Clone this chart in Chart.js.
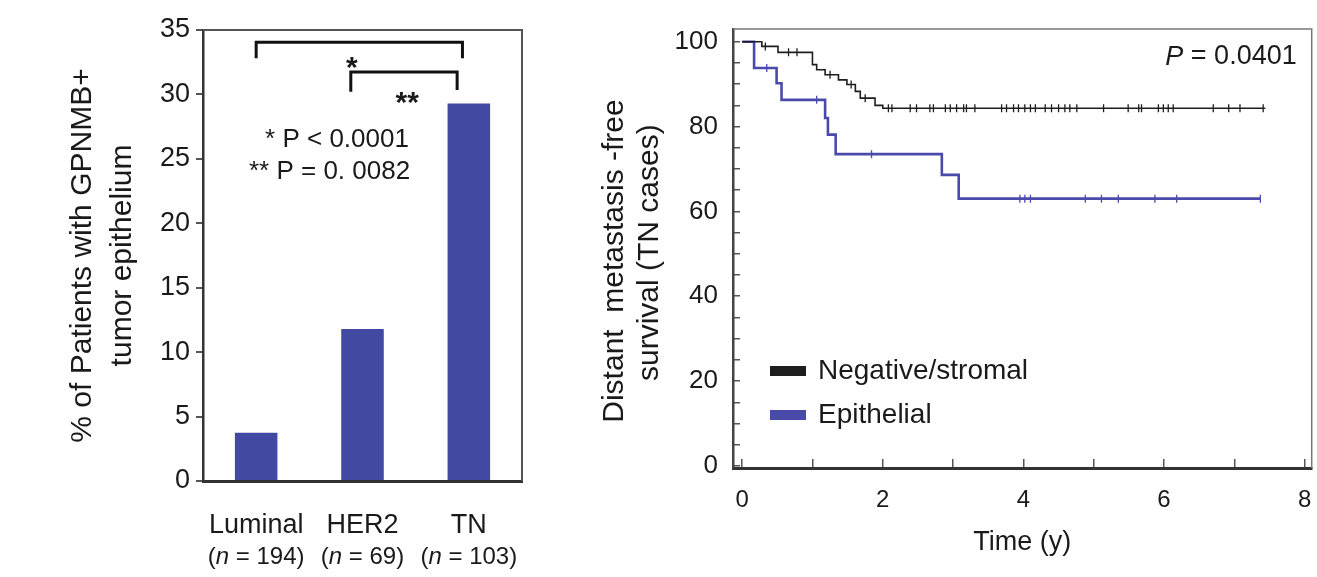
<!DOCTYPE html>
<html lang="en">
<head>
<meta charset="UTF-8">
<title>GPNMB epithelial expression</title>
<script src="https://cdn.jsdelivr.net/npm/chart.js"></script>
<style>
  body { margin: 0; background: #fff; }
  #wrap { position: relative; width: 1317px; height: 577px; }
  .box { position: absolute; top: 0; height: 577px; }
  #left { left: 0; width: 570px; }
  #right { left: 570px; width: 747px; }
</style>
</head>
<body>
<div id="wrap">
  <div class="box" id="left"><canvas id="barChart"></canvas></div>
  <div class="box" id="right"><canvas id="kmChart"></canvas></div>
</div>
<script>
// bar chart data
const subtypes = ['Luminal', 'HER2', 'TN'];
const subtypeN = [194, 69, 103];
const pctPositive = [3.75, 11.8, 29.3];

// Kaplan-Meier curves (time in years, survival in %)
const negTimes = [0, 0.28, 0.51, 1.0, 1.06, 1.18, 1.37, 1.49, 1.61, 1.68, 1.89, 2.0, 7.44];
const negSurv  = [100, 98.9, 97.5, 94.6, 93.4, 92.2, 91.0, 89.9, 88.3, 86.7, 85.0, 84.3, 84.3];
const epiTimes = [0, 0.17, 0.49, 0.56, 1.18, 1.22, 1.33, 2.84, 3.08, 7.37];
const epiSurv  = [100, 93.8, 90.2, 86.3, 82.0, 78.1, 73.5, 68.6, 63.0, 63.0];

// censored observations
const negCensor = [0.33, 0.66, 0.78, 1.25, 1.55, 1.75, 2.08, 2.13, 2.39, 2.48, 2.67, 2.72, 2.89, 2.96,
  3.05, 3.15, 3.19, 3.31, 3.69, 3.76, 3.86, 3.93, 4.02, 4.10, 4.17, 4.31, 4.40, 4.50, 4.59, 4.66,
  4.76, 5.14, 5.49, 5.64, 5.68, 5.92, 5.99, 6.06, 6.13, 6.70, 6.92, 7.08, 7.41];
const epiCensor = [0.35, 1.06, 1.84, 3.95, 4.02, 4.10, 4.88, 5.11, 5.35, 5.87, 6.18, 7.37];

const FONT = "'Liberation Sans', Arial, Helvetica, sans-serif";
const TEXT = '#1a1a1a';
const BAR_BLUE = '#4249a3';
const KM_BLUE = '#4a4aaa';
const KM_BLACK = '#1e1e1e';

Chart.defaults.font.family = FONT;
Chart.defaults.color = TEXT;

function survAt(times, surv, t) {
  let s = surv[0];
  for (let i = 0; i < times.length; i++) if (times[i] <= t) s = surv[i];
  return s;
}
const toXY = (xs, ys) => xs.map((x, i) => ({ x, y: ys[i] }));
const censorPts = (cs, times, surv) => cs.map(t => ({ x: t, y: survAt(times, surv, t) }));

// keep the chart area where the figure has it
function noPad(s) {
  s.paddingLeft = 0; s.paddingRight = 0; s.paddingTop = 0; s.paddingBottom = 0;
}

// brackets, p-values, frame and n labels on the bar chart
const barExtras = {
  id: 'barExtras',
  afterDraw(chart) {
    const { ctx, chartArea: a, scales: { x, y } } = chart;
    ctx.save();
    ctx.strokeStyle = '#555';
    ctx.lineWidth = 2;
    ctx.beginPath();
    ctx.moveTo(a.left, a.top); ctx.lineTo(a.right, a.top); ctx.lineTo(a.right, a.bottom);
    ctx.stroke();

    ctx.strokeStyle = '#111';
    ctx.lineWidth = 3;
    const bracket = (i0, i1, top, end0, end1) => {
      ctx.beginPath();
      ctx.moveTo(x.getPixelForValue(i0), y.getPixelForValue(end0));
      ctx.lineTo(x.getPixelForValue(i0), y.getPixelForValue(top));
      ctx.lineTo(x.getPixelForValue(i1), y.getPixelForValue(top));
      ctx.lineTo(x.getPixelForValue(i1), y.getPixelForValue(end1));
      ctx.stroke();
    };
    bracket(0, 1.94, 34.05, 32.8, 32.8);
    bracket(0.89, 1.89, 31.75, 30.2, 30.35);

    ctx.fillStyle = TEXT;
    ctx.textAlign = 'center';
    ctx.textBaseline = 'middle';
    ctx.font = `bold 30px ${FONT}`;
    ctx.fillText('*', x.getPixelForValue(0.9), y.getPixelForValue(31.97));
    ctx.fillText('**', x.getPixelForValue(1.42), y.getPixelForValue(29.26));
    ctx.font = `26px ${FONT}`;
    ctx.fillText('* P < 0.0001', x.getPixelForValue(0.76), y.getPixelForValue(26.46));
    ctx.fillText('** P = 0. 0082', x.getPixelForValue(0.69), y.getPixelForValue(23.98));

    // (n = ...) under each category, italic n
    const yy = a.bottom + 76;
    subtypeN.forEach((n, i) => {
      const parts = [['(', false], ['n', true], [' = ' + n + ')', false]];
      const w = parts.map(([t, it]) => { ctx.font = `${it ? 'italic ' : ''}24px ${FONT}`; return ctx.measureText(t).width; });
      let xx = x.getPixelForValue(i) - w.reduce((s, v) => s + v, 0) / 2;
      ctx.textAlign = 'left';
      parts.forEach(([t, it], k) => {
        ctx.font = `${it ? 'italic ' : ''}24px ${FONT}`;
        ctx.fillText(t, xx, yy);
        xx += w[k];
      });
    });
    ctx.restore();
  }
};

new Chart(document.getElementById('barChart'), {
  type: 'bar',
  data: {
    labels: subtypes,
    datasets: [{
      data: pctPositive,
      backgroundColor: BAR_BLUE,
      barPercentage: 0.4,
      categoryPercentage: 1
    }]
  },
  options: {
    responsive: true,
    maintainAspectRatio: false,
    animation: false,
    layout: { padding: { left: 56, right: 48, top: 30, bottom: 0 } },
    plugins: { legend: { display: false }, tooltip: { enabled: false } },
    scales: {
      x: {
        grid: { display: false },
        border: { color: '#333', width: 3 },
        ticks: { font: { size: 27 }, padding: 20, color: TEXT },
        afterFit: s => { s.height = 96; noPad(s); }
      },
      y: {
        min: 0,
        max: 35,
        ticks: { stepSize: 5, font: { size: 27 }, padding: 6, color: TEXT },
        grid: { drawOnChartArea: false, tickLength: 7, color: '#555', lineWidth: 2 },
        border: { color: '#333', width: 2.5 },
        title: {
          display: true,
          text: ['% of Patients with GPNMB+', 'tumor epithelium'],
          font: { size: 30, lineHeight: 1.33 },
          padding: { top: 7 },
          color: TEXT
        },
        afterFit: s => { s.width = 147; noPad(s); }
      }
    }
  },
  plugins: [barExtras]
});

// legend, p-value and frame on the survival chart
const kmExtras = {
  id: 'kmExtras',
  afterDraw(chart) {
    const { ctx, chartArea: a } = chart;
    ctx.save();
    ctx.strokeStyle = '#777';
    ctx.lineWidth = 1.5;
    ctx.beginPath();
    ctx.moveTo(a.left, a.top); ctx.lineTo(a.right, a.top); ctx.lineTo(a.right, a.bottom);
    ctx.stroke();

    ctx.textBaseline = 'middle';
    ctx.textAlign = 'left';
    ctx.font = `28px ${FONT}`;
    chart.data.datasets.filter(d => d.label).forEach((d, i) => {
      const yy = a.top + 342 + i * 44;
      ctx.fillStyle = d.borderColor;
      ctx.fillRect(a.left + 37, yy - 5, 36, 10);
      ctx.fillStyle = TEXT;
      ctx.fillText(d.label, a.left + 85, yy);
    });

    const rest = ' = 0.0401';
    ctx.font = `27px ${FONT}`;
    const wRest = ctx.measureText(rest).width;
    ctx.textAlign = 'right';
    ctx.fillText(rest, a.right - 15, a.top + 28);
    ctx.font = `italic 27px ${FONT}`;
    ctx.fillText('P', a.right - 15 - wRest, a.top + 28);
    ctx.restore();
  }
};

new Chart(document.getElementById('kmChart'), {
  type: 'line',
  data: {
    datasets: [
      { label: 'Negative/stromal', data: toXY(negTimes, negSurv), borderColor: KM_BLACK, borderWidth: 1.6, stepped: true, pointRadius: 0 },
      { label: 'Epithelial', data: toXY(epiTimes, epiSurv), borderColor: KM_BLUE, borderWidth: 2.6, stepped: true, pointRadius: 0 },
      { data: censorPts(negCensor, negTimes, negSurv), showLine: false, pointStyle: 'line', pointRotation: 90, pointRadius: 4, pointBorderWidth: 1.3, pointBorderColor: KM_BLACK },
      { data: censorPts(epiCensor, epiTimes, epiSurv), showLine: false, pointStyle: 'line', pointRotation: 90, pointRadius: 4, pointBorderWidth: 1.3, pointBorderColor: KM_BLUE }
    ]
  },
  options: {
    responsive: true,
    maintainAspectRatio: false,
    animation: false,
    layout: { padding: { left: 20, right: 4, top: 29, bottom: 0 } },
    plugins: { legend: { display: false }, tooltip: { enabled: false } },
    scales: {
      x: {
        type: 'linear',
        min: -0.13,
        max: 8.1,
        ticks: {
          stepSize: 1, includeBounds: false, autoSkip: false, maxRotation: 0,
          font: { size: 24 }, padding: 27, color: TEXT,
          callback: v => (v % 2 === 0 ? v : '')
        },
        grid: { drawOnChartArea: false, tickLength: -9, color: '#555', lineWidth: 1.5 },
        border: { color: '#333', width: 3 },
        title: { display: true, text: 'Time (y)', font: { size: 27 }, padding: { bottom: 18 }, color: TEXT },
        afterFit: s => { s.height = 109; noPad(s); }
      },
      y: {
        min: -0.5,
        max: 103,
        ticks: {
          stepSize: 5, includeBounds: false, autoSkip: false,
          font: { size: 26 }, padding: 22, color: TEXT,
          callback: v => (v % 20 === 0 ? v : '')
        },
        grid: { drawOnChartArea: false, tickLength: -7, color: '#555', lineWidth: 1.5 },
        border: { color: '#444', width: 2.5 },
        title: {
          display: true,
          text: ['Distant  metastasis -free   ', 'survival (TN cases) '],
          font: { size: 30, lineHeight: 1.17 },
          padding: { top: 7 },
          color: TEXT
        },
        afterFit: s => { s.width = 143; noPad(s); }
      }
    }
  },
  plugins: [kmExtras]
});
</script>
</body>
</html>
